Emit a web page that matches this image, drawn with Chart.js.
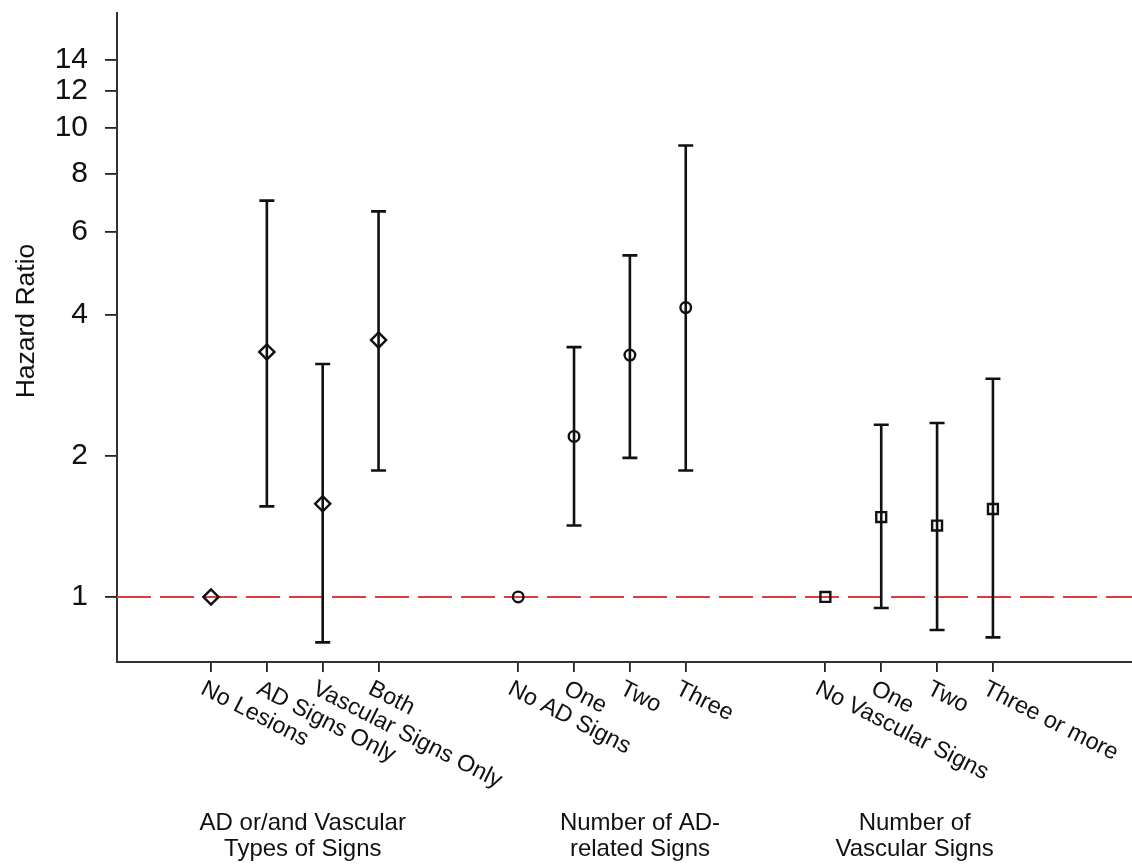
<!DOCTYPE html>
<html>
<head>
<meta charset="utf-8">
<script src="https://cdn.jsdelivr.net/npm/chart.js@4.4.1/dist/chart.umd.min.js"></script>
<style>
html,body{margin:0;padding:0;background:#fff;}
#wrap{width:1132px;height:868px;position:relative;}
</style>
</head>
<body>
<div id="wrap"><canvas id="c" width="1132" height="868"></canvas></div>
<script>
// ---------- data ----------
const groupTitles = [
  ["AD or/and Vascular", "Types of Signs"],
  ["Number of AD-", "related Signs"],
  ["Number of", "Vascular Signs"]
];
const typeLabels = ["No Lesions", "AD Signs Only", "Vascular Signs Only", "Both"];
const typeHR     = [1, 3.33, 1.58, 3.53];
const typeLower  = [null, 1.56, 0.80, 1.86];
const typeUpper  = [null, 7.00, 3.14, 6.64];

const adLabels = ["No AD Signs", "One", "Two", "Three"];
const adHR     = [1, 2.20, 3.28, 4.14];
const adLower  = [null, 1.42, 1.98, 1.86];
const adUpper  = [null, 3.41, 5.35, 9.18];

const vascLabels = ["No Vascular Signs", "One", "Two", "Three or more"];
const vascHR     = [1, 1.48, 1.42, 1.54];
const vascLower  = [null, 0.947, 0.85, 0.82];
const vascUpper  = [null, 2.33, 2.35, 2.92];

const yTickValues = [1, 2, 4, 6, 8, 10, 12, 14];
const referenceHR = 1;
const yTitle = "Hazard Ratio";

// ---------- layout / style constants ----------
const FONT = '"Liberation Sans", Arial, Helvetica, sans-serif';
const GROUP_STEP = 5.5;            // category slots between group starts
const X_MIN = -1.683, X_MAX = 16.49;
const Y_MIN = 0.7266, Y_MAX = 17.59;
const groupLabelShift = [8, 38, 5.5]; // px shift of group captions from group centre

const groups = [
  {labels: typeLabels, hr: typeHR, lo: typeLower, hi: typeUpper, style: 'rectRot', radius: 7.6},
  {labels: adLabels,   hr: adHR,   lo: adLower,   hi: adUpper,   style: 'circle',  radius: 5.3},
  {labels: vascLabels, hr: vascHR, lo: vascLower, hi: vascUpper, style: 'rect',    radius: 7.0}
];
const posOf = (gi, i) => gi * GROUP_STEP + i;
const allPositions = [];
groups.forEach((g, gi) => g.labels.forEach((_, i) => allPositions.push(posOf(gi, i))));

const datasets = groups.map((g, gi) => ({
  type: 'scatter',
  data: g.hr.map((v, i) => ({x: posOf(gi, i), y: v})),
  pointStyle: g.style,
  pointRadius: g.radius,
  pointBorderWidth: 2.4,
  pointBorderColor: '#111',
  pointBackgroundColor: 'rgba(0,0,0,0)',
  showLine: false,
  order: 1
}));
datasets.unshift({
  type: 'line',
  data: [{x: X_MIN, y: referenceHR}, {x: X_MAX, y: referenceHR}],
  borderColor: '#dd3b40',
  borderWidth: 2,
  borderDash: [34, 9],
  pointRadius: 0,
  fill: false,
  order: 5
});

const annot = {
  id: 'annot',
  afterDatasetsDraw(chart) {
    const {ctx, scales: {x, y}} = chart;
    const CAP = 7.5;
    ctx.save();
    ctx.strokeStyle = '#111';
    ctx.lineWidth = 2.6;
    groups.forEach((g, gi) => g.hr.forEach((v, i) => {
      if (g.lo[i] == null) return;
      const px = x.getPixelForValue(posOf(gi, i));
      const y1 = y.getPixelForValue(g.lo[i]);
      const y2 = y.getPixelForValue(g.hi[i]);
      ctx.beginPath();
      ctx.moveTo(px, y1); ctx.lineTo(px, y2);
      ctx.moveTo(px - CAP, y1); ctx.lineTo(px + CAP, y1);
      ctx.moveTo(px - CAP, y2); ctx.lineTo(px + CAP, y2);
      ctx.stroke();
    }));
    ctx.restore();
  },
  afterDraw(chart) {
    const {ctx, scales: {x, y}} = chart;
    ctx.save();
    ctx.fillStyle = '#111';
    // rotated category labels
    const fs = 23.4, cap = fs * 0.716;
    ctx.font = fs + 'px ' + FONT;
    ctx.textAlign = 'left';
    ctx.textBaseline = 'alphabetic';
    groups.forEach((g, gi) => g.labels.forEach((lab, i) => {
      const px = x.getPixelForValue(posOf(gi, i));
      ctx.save();
      ctx.translate(px - 2.5, x.top + 17);
      ctx.rotate(27 * Math.PI / 180);
      ctx.fillText(lab, -1.5, cap);
      ctx.restore();
    }));
    // group captions
    ctx.font = '24px ' + FONT;
    ctx.textAlign = 'center';
    groups.forEach((g, gi) => {
      const c = (x.getPixelForValue(posOf(gi, 0)) + x.getPixelForValue(posOf(gi, g.labels.length - 1))) / 2 + groupLabelShift[gi];
      ctx.fillText(groupTitles[gi][0], c, x.top + 168);
      ctx.fillText(groupTitles[gi][1], c, x.top + 194);
    });
    // y title
    const tfs = 26.5;
    ctx.font = tfs + 'px ' + FONT;
    ctx.save();
    ctx.translate(25, 321);
    ctx.rotate(-Math.PI / 2);
    ctx.textAlign = 'center';
    ctx.fillText(yTitle, 0, tfs * 0.716 / 2);
    ctx.restore();
    ctx.restore();
  }
};

new Chart(document.getElementById('c'), {
  type: 'scatter',
  data: {datasets},
  plugins: [annot],
  options: {
    responsive: false,
    animation: false,
    events: [],
    layout: {autoPadding: false, padding: {top: 13, left: 0, right: 0, bottom: 0}},
    plugins: {legend: {display: false}, tooltip: {enabled: false}},
    scales: {
      x: {
        type: 'linear',
        min: X_MIN, max: X_MAX,
        bounds: 'data',
        afterBuildTicks: s => { s.ticks = allPositions.map(v => ({value: v})); s.min = X_MIN; s.max = X_MAX; },
        ticks: {display: false},
        grid: {drawOnChartArea: false, drawTicks: true, tickLength: 10, color: '#222', lineWidth: 1.8},
        border: {display: true, color: '#333', width: 2},
        afterFit: s => { s.height = 206; s.paddingLeft = 0; s.paddingRight = 0; }
      },
      y: {
        type: 'logarithmic',
        min: Y_MIN, max: Y_MAX,
        bounds: 'data',
        afterBuildTicks: s => { s.ticks = yTickValues.map(v => ({value: v})); s.min = Y_MIN; s.max = Y_MAX; },
        ticks: {
          autoSkip: false,
          font: {family: FONT, size: 30},
          color: '#111',
          padding: 17,
          callback: v => String(v)
        },
        grid: {drawOnChartArea: false, drawTicks: true, tickLength: 12, color: '#222', lineWidth: 1.8},
        border: {display: true, color: '#333', width: 2},
        afterFit: s => { s.width = 117; s.paddingTop = 0; s.paddingBottom = 0; }
      }
    }
  }
});
</script>
</body>
</html>
